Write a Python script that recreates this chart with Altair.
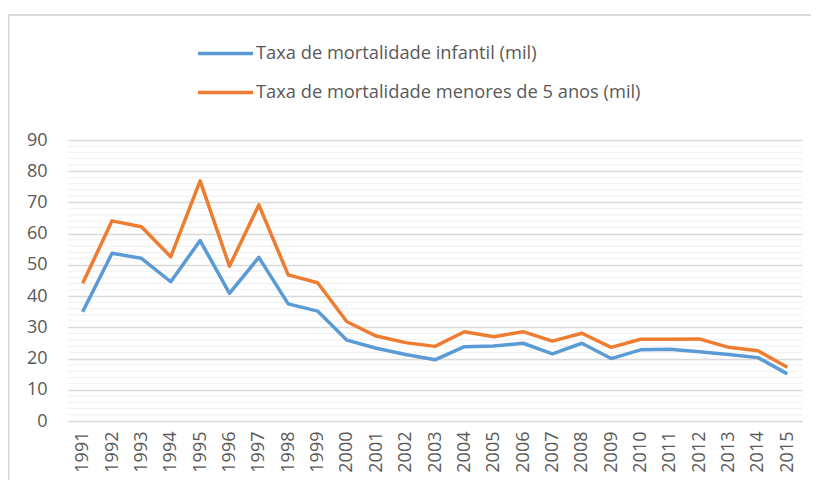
import altair as alt
import pandas as pd

years = ["1991", "1992", "1993", "1994", "1995", "1996", "1997", "1998", "1999",
         "2000", "2001", "2002", "2003", "2004", "2005", "2006", "2007", "2008",
         "2009", "2010", "2011", "2012", "2013", "2014", "2015"]

infantil = [35.0, 53.7, 52.1, 44.6, 57.8, 40.9, 52.4, 37.5, 35.2, 25.9, 23.3, 21.3,
            19.6, 23.8, 24.0, 24.9, 21.5, 24.9, 20.0, 22.8, 23.0, 22.2, 21.3, 20.3, 15.1]
menores5 = [44.1, 64.1, 62.2, 52.6, 76.9, 49.6, 69.2, 46.8, 44.3, 31.8, 27.2, 25.1,
            23.9, 28.6, 27.0, 28.6, 25.6, 28.1, 23.6, 26.2, 26.2, 26.3, 23.6, 22.5, 17.2]

series_names = ["Taxa de mortalidade infantil (mil)",
                "Taxa de mortalidade menores de 5 anos (mil)"]
series_colors = ["#5B9BD5", "#ED7D31"]

major_ticks = [0, 10, 20, 30, 40, 50, 60, 70, 80, 90]
minor_ticks = [2, 4, 6, 8, 12, 14, 16, 18, 22, 24, 26, 28, 32, 34, 36, 38,
               42, 44, 46, 48, 52, 54, 56, 58, 62, 64, 66, 68, 72, 74, 76, 78,
               82, 84, 86, 88]

rows = []
for name, vals in zip(series_names, [infantil, menores5]):
    for yr, v in zip(years, vals):
        rows.append({"ano": yr, "valor": v, "serie": name})
df = pd.DataFrame(rows)

FONT = "Open Sans"
GRAY = "#595959"

yscale = alt.Scale(domain=[0, 90], nice=False, zero=True)
yaxis = alt.Axis(values=major_ticks, ticks=False, domain=False,
                 labelFont=FONT, labelFontSize=18, labelColor=GRAY,
                 labelPadding=21, gridColor="#D9D9D9", gridWidth=1.5, title=None)

minor = alt.Chart(pd.DataFrame({"v": minor_ticks})).mark_rule(
    color="#EFEFEF", strokeWidth=1
).encode(y=alt.Y("v:Q", scale=yscale, axis=yaxis, title=None))

lines = alt.Chart(df).mark_line(strokeWidth=3.5, strokeJoin="round", strokeCap="butt").encode(
    x=alt.X("ano:O", sort=years, title=None,
            axis=alt.Axis(labelAngle=-90, labelFont=FONT, labelFontSize=18,
                          labelColor=GRAY, ticks=False, domain=True,
                          domainColor="#D9D9D9", labelPadding=10, grid=False)),
    y=alt.Y("valor:Q", scale=yscale, title=None, axis=yaxis),
    color=alt.Color("serie:N",
                    scale=alt.Scale(domain=series_names, range=series_colors),
                    legend=alt.Legend(orient="none", legendX=128, legendY=-116,
                                      title=None, symbolType="stroke",
                                      symbolSize=3025, symbolStrokeWidth=3.5,
                                      labelFont=FONT, labelFontSize=18.3,
                                      labelColor=GRAY, labelOffset=1,
                                      labelLimit=0, rowPadding=1, padding=0)),
)

frame = alt.Chart(pd.DataFrame({"k": [0]})).mark_rule(color="#D9D9D9", strokeWidth=2).encode(
    x=alt.value(-60), x2=alt.value(760), y=alt.value(-125)
)
frame_left = alt.Chart(pd.DataFrame({"k": [0]})).mark_rule(color="#D9D9D9", strokeWidth=2).encode(
    x=alt.value(-59.5), y=alt.value(-125), y2=alt.value(400)
)

chart = alt.layer(frame, frame_left, minor, lines).properties(
    width=734, height=281,
    autosize=alt.AutoSizeParams(type="none"),
    padding={"left": 60, "top": 132, "right": 9, "bottom": 59},
).configure(background="white").configure_view(stroke=None)

chart.save("out.html", embed_options={"renderer": "svg", "actions": False})
